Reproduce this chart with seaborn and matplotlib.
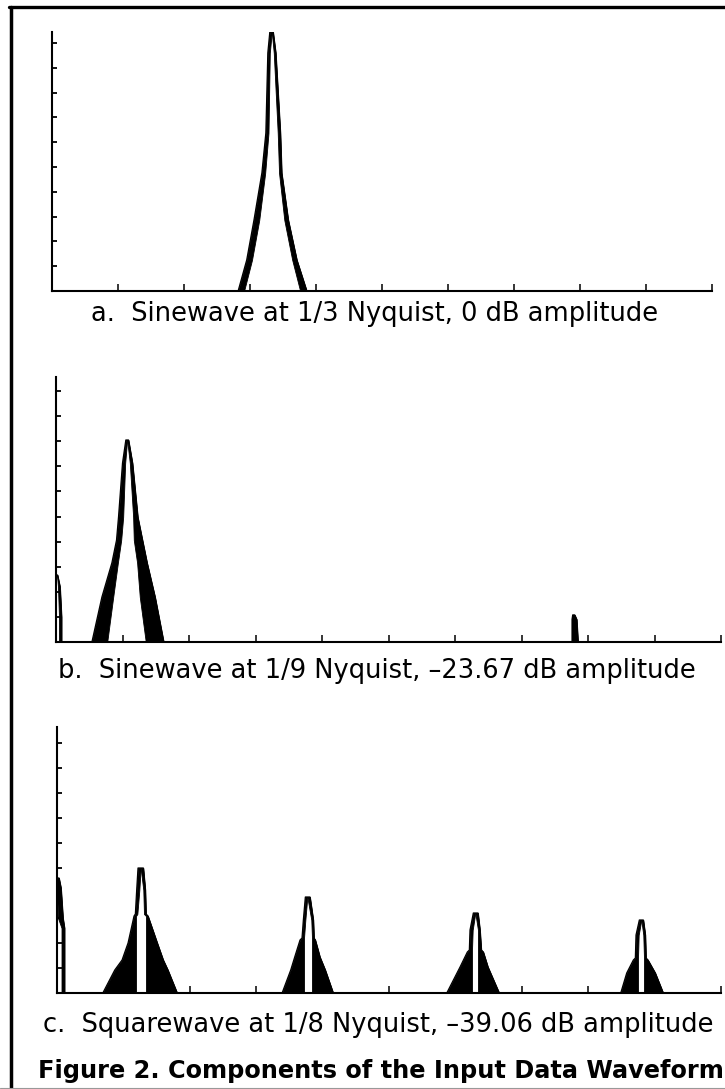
import numpy as np
import pandas as pd
import matplotlib
matplotlib.use("Agg")
import matplotlib.pyplot as plt
from matplotlib.lines import Line2D
import seaborn as sns

# ---------------- data ----------------
# x: fraction of Nyquist, y: level in grid divisions
x_ticks = [0.1, 0.2, 0.3, 0.4, 0.5, 0.6, 0.7, 0.8, 0.9, 1.0]
y_ticks = [1, 2, 3, 4, 5, 6, 7, 8, 9, 10]

caption_a = "a.  Sinewave at 1/3 Nyquist, 0 dB amplitude"
caption_b = "b.  Sinewave at 1/9 Nyquist, \u201323.67 dB amplitude"
caption_c = "c.  Squarewave at 1/8 Nyquist, \u201339.06 dB amplitude"
figure_title = "Figure 2. Components of the Input Data Waveform"

# panel a : single peak at 1/3 Nyquist
a_level = [0, 1.25, 2.86, 4.76, 6.37, 9.6, 10.44]
a_out_left = [0.282, 0.295, 0.306, 0.318, 0.324, 0.327, 0.330]
a_in_left = [0.291, 0.303, 0.314, 0.323, 0.328, 0.330, 0.333]
a_in_right = [0.376, 0.364, 0.352, 0.344, 0.342, 0.336, 0.333]
a_out_right = [0.386, 0.371, 0.358, 0.348, 0.346, 0.339, 0.335]

# panel b : DC component, peak at 1/9 Nyquist, small spur
b_dc_level = [0, 1.0, 2.2, 2.67]
b_dc_out_left = [0, 0, 0, 0]
b_dc_in_left = [0, 0, 0, 0]
b_dc_in_right = [0.0045, 0.0045, 0.003, 0.0015]
b_dc_out_right = [0.0083, 0.0083, 0.006, 0.0023]

b_level = [0, 1.79, 3.15, 4.06, 4.98, 7.13, 8.05]
b_out_left = [0.054, 0.069, 0.084, 0.091, 0.094, 0.100, 0.105]
b_in_left = [0.077, 0.086, 0.093, 0.098, 0.101, 0.104, 0.107]
b_in_right = [0.135, 0.126, 0.122, 0.117, 0.116, 0.111, 0.107]
b_out_right = [0.162, 0.149, 0.137, 0.130, 0.123, 0.115, 0.109]

b_spur_level = [0, 0.9, 1.08]
b_spur_out_left = [0.776, 0.776, 0.777]
b_spur_in_left = [0.776, 0.776, 0.777]
b_spur_in_right = [0.776, 0.776, 0.777]
b_spur_out_right = [0.785, 0.783, 0.780]

# panel c : DC component and odd harmonics of a squarewave
c_dc_level = [0, 2.6, 3.0, 4.2, 4.6]
c_dc_out_left = [0, 0, 0, 0, 0]
c_dc_in_left = [0, 0, 0, 0, 0]
c_dc_in_right = [0.0068, 0.0068, 0.0015, 0, 0]
c_dc_out_right = [0.0113, 0.0113, 0.009, 0.006, 0.003]

c1_level = [0, 0.92, 1.32, 2.0, 3.08, 3.16, 4.12, 5.0]
c1_out_left = [0.069, 0.087, 0.098, 0.107, 0.116, 0.118, 0.120, 0.122]
c1_in_left = [0.119, 0.119, 0.119, 0.119, 0.119, 0.121, 0.124, 0.126]
c1_in_right = [0.134, 0.134, 0.134, 0.134, 0.134, 0.131, 0.130, 0.126]
c1_out_right = [0.181, 0.167, 0.160, 0.151, 0.137, 0.134, 0.133, 0.130]

c2_level = [0, 0.92, 1.44, 2.12, 2.2, 2.92, 3.84]
c2_out_left = [0.339, 0.352, 0.358, 0.366, 0.369, 0.371, 0.374]
c2_in_left = [0.372, 0.372, 0.372, 0.372, 0.372, 0.374, 0.377]
c2_in_right = [0.384, 0.384, 0.384, 0.384, 0.384, 0.383, 0.377]
c2_out_right = [0.416, 0.404, 0.396, 0.389, 0.387, 0.386, 0.381]

c3_level = [0, 1.04, 1.64, 1.72, 2.52, 3.2]
c3_out_left = [0.587, 0.607, 0.618, 0.621, 0.622, 0.627]
c3_in_left = [0.625, 0.625, 0.625, 0.625, 0.626, 0.630]
c3_in_right = [0.634, 0.634, 0.634, 0.634, 0.634, 0.630]
c3_out_right = [0.666, 0.649, 0.642, 0.639, 0.637, 0.634]

c4_level = [0, 0.8, 1.32, 1.4, 2.32, 2.92]
c4_out_left = [0.849, 0.858, 0.868, 0.871, 0.872, 0.877]
c4_in_left = [0.875, 0.875, 0.875, 0.875, 0.876, 0.880]
c4_in_right = [0.884, 0.884, 0.884, 0.884, 0.883, 0.880]
c4_out_right = [0.913, 0.901, 0.890, 0.887, 0.886, 0.883]

# ---------------- drawing ----------------
sns.set_theme(style="ticks")
plt.rcParams['font.family'] = ['DejaVu Sans']

W, H = 725, 1089
fig = plt.figure(figsize=(W / 100, H / 100), dpi=100)
fig.patch.set_facecolor('white')


def px_axes(left, right, top, bottom):
    return fig.add_axes([left / W, 1 - bottom / H, (right - left) / W, (bottom - top) / H])


def style(ax, ymax):
    ax.set_xlim(0, 1)
    ax.set_ylim(0, ymax)
    for s in ['top', 'right']:
        ax.spines[s].set_visible(False)
    for s in ['left', 'bottom']:
        ax.spines[s].set_linewidth(1.5)
        ax.spines[s].set_color('black')
    ax.set_xticks(x_ticks)
    ax.set_yticks(y_ticks)
    ax.set_xticklabels([])
    ax.set_yticklabels([])
    ax.tick_params(axis='x', direction='in', length=5, width=1.1, color='black')
    ax.tick_params(axis='y', direction='in', length=3.6, width=1.3, color='black')
    ax.grid(False)
    ax.set_facecolor('white')
    ax.set_xlabel('')
    ax.set_ylabel('')


def draw_peak(ax, level, out_left, in_left, in_right, out_right):
    ax.fill_betweenx(level, out_left, in_left, facecolor='black', edgecolor='black', lw=0.6)
    ax.fill_betweenx(level, in_right, out_right, facecolor='black', edgecolor='black', lw=0.6)
    df = pd.DataFrame({'x': list(out_left) + list(out_right)[::-1],
                       'y': list(level) + list(level)[::-1]})
    sns.lineplot(data=df, x='x', y='y', sort=False, estimator=None,
                 color='black', lw=0.9, ax=ax)


# panel a
ax_a = px_axes(52, 712, 32, 291)
draw_peak(ax_a, a_level, a_out_left, a_in_left, a_in_right, a_out_right)
style(ax_a, 10.44)

# panel b
ax_b = px_axes(56, 721, 377, 642)
draw_peak(ax_b, b_dc_level, b_dc_out_left, b_dc_in_left, b_dc_in_right, b_dc_out_right)
draw_peak(ax_b, b_level, b_out_left, b_in_left, b_in_right, b_out_right)
draw_peak(ax_b, b_spur_level, b_spur_out_left, b_spur_in_left, b_spur_in_right, b_spur_out_right)
style(ax_b, 10.56)

# panel c
ax_c = px_axes(57, 721, 727, 993)
draw_peak(ax_c, c_dc_level, c_dc_out_left, c_dc_in_left, c_dc_in_right, c_dc_out_right)
draw_peak(ax_c, c1_level, c1_out_left, c1_in_left, c1_in_right, c1_out_right)
draw_peak(ax_c, c2_level, c2_out_left, c2_in_left, c2_in_right, c2_out_right)
draw_peak(ax_c, c3_level, c3_out_left, c3_in_left, c3_in_right, c3_out_right)
draw_peak(ax_c, c4_level, c4_out_left, c4_in_left, c4_in_right, c4_out_right)
style(ax_c, 10.64)

# captions
fig.text(375 / W, 1 - 321 / H, caption_a, ha='center', va='baseline', fontsize=18.5, color='black')
fig.text(377 / W, 1 - 678 / H, caption_b, ha='center', va='baseline', fontsize=18.5, color='black')
fig.text(378 / W, 1 - 1032 / H, caption_c, ha='center', va='baseline', fontsize=18.5, color='black')
fig.text(381 / W, 1 - 1078 / H, figure_title, ha='center', va='baseline', fontsize=17.3,
         fontweight='bold', color='black')

# frame
fig.add_artist(Line2D([11 / W, 11 / W], [0, 1 - 6.7 / H], color='black', lw=2.5))
fig.add_artist(Line2D([9.3 / W, 1], [1 - 6.7 / H, 1 - 6.7 / H], color='black', lw=2.4))
fig.add_artist(Line2D([0, 1], [1 - 1087.5 / H, 1 - 1087.5 / H], color='#999999', lw=0.8))

fig.savefig('out.png', dpi=100)
